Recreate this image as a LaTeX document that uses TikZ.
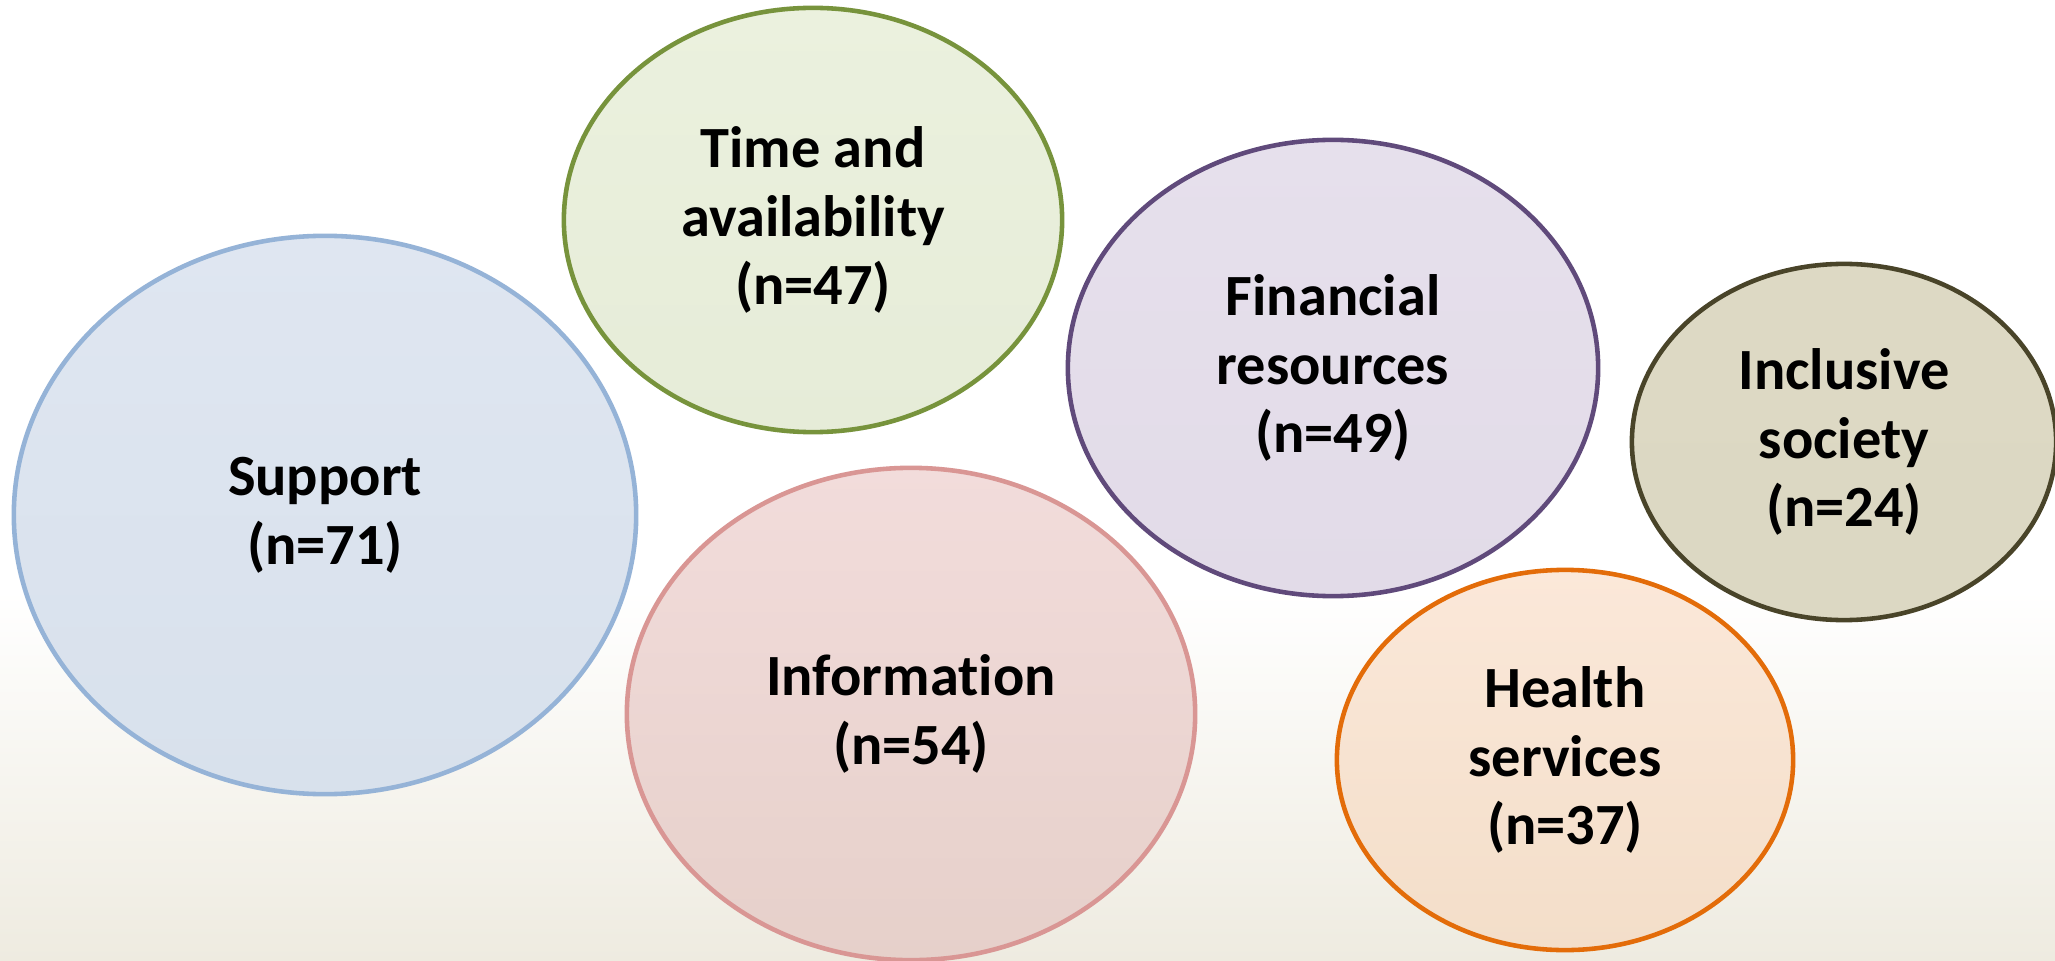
\documentclass[tikz,border=0pt]{standalone}
\usepackage{fontspec}
\setmainfont[Ligatures=NoCommon]{Carlito}
\usetikzlibrary{shapes.geometric}
\definecolor{supF}{HTML}{DFE6F1}\definecolor{supF2}{HTML}{D8E1EC}\definecolor{supD}{HTML}{95B3D7}
\definecolor{timF}{HTML}{EBF1DE}\definecolor{timF2}{HTML}{E6ECD8}\definecolor{timD}{HTML}{77933C}
\definecolor{finF}{HTML}{E6E0EC}\definecolor{finF2}{HTML}{E2DBE8}\definecolor{finD}{HTML}{604A7B}
\definecolor{incF}{HTML}{DDD9C4}\definecolor{incF2}{HTML}{DCD8C3}\definecolor{incD}{HTML}{494429}
\definecolor{infF}{HTML}{F2DCDB}\definecolor{infF2}{HTML}{E6D0CA}\definecolor{infD}{HTML}{D99694}
\definecolor{heaF}{HTML}{FBE8D9}\definecolor{heaF2}{HTML}{F3DEC9}\definecolor{heaD}{HTML}{E36C09}
\definecolor{bgB}{HTML}{EEEBE0}
\tikzset{
  bubble/.style={ellipse, inner sep=0pt, line width=1.3pt, align=center,
    font=\fontsize{16.6}{19.5}\selectfont\bfseries, text=black},
}
\begin{document}
\begin{tikzpicture}[x=0.01cm,y=-0.01cm]
\useasboundingbox (0,0) rectangle (2055,961);
\fill[white] (0,0) rectangle (2055,961);
\shade[top color=white, bottom color=bgB] (0,590) rectangle (2055,961);
\node[bubble, draw=supD, top color=supF, bottom color=supF2, minimum width=6.22cm, minimum height=5.58cm] (sup) at (325,515) {Support\\(n=71)};
\node[bubble, draw=timD, top color=timF, bottom color=timF2, minimum width=4.98cm, minimum height=4.24cm] (tim) at (813,220) {Time and\\availability\\(n=47)};
\node[bubble, draw=finD, top color=finF, bottom color=finF2, minimum width=5.30cm, minimum height=4.56cm] (fin) at (1333,368) {Financial\\resources\\(n=49)};
\node[bubble, draw=incD, top color=incF, bottom color=incF2, minimum width=4.24cm, minimum height=3.56cm] (inc) at (1844,442) {Inclusive\\society\\(n=24)};
\node[bubble, draw=infD, top color=infF, bottom color=infF2, minimum width=5.68cm, minimum height=4.92cm] (inf) at (911,714) {Information\\(n=54)};
\node[bubble, draw=heaD, top color=heaF, bottom color=heaF2, minimum width=4.56cm, minimum height=3.80cm] (hea) at (1565,760) {Health\\services\\(n=37)};
\end{tikzpicture}
\end{document}
